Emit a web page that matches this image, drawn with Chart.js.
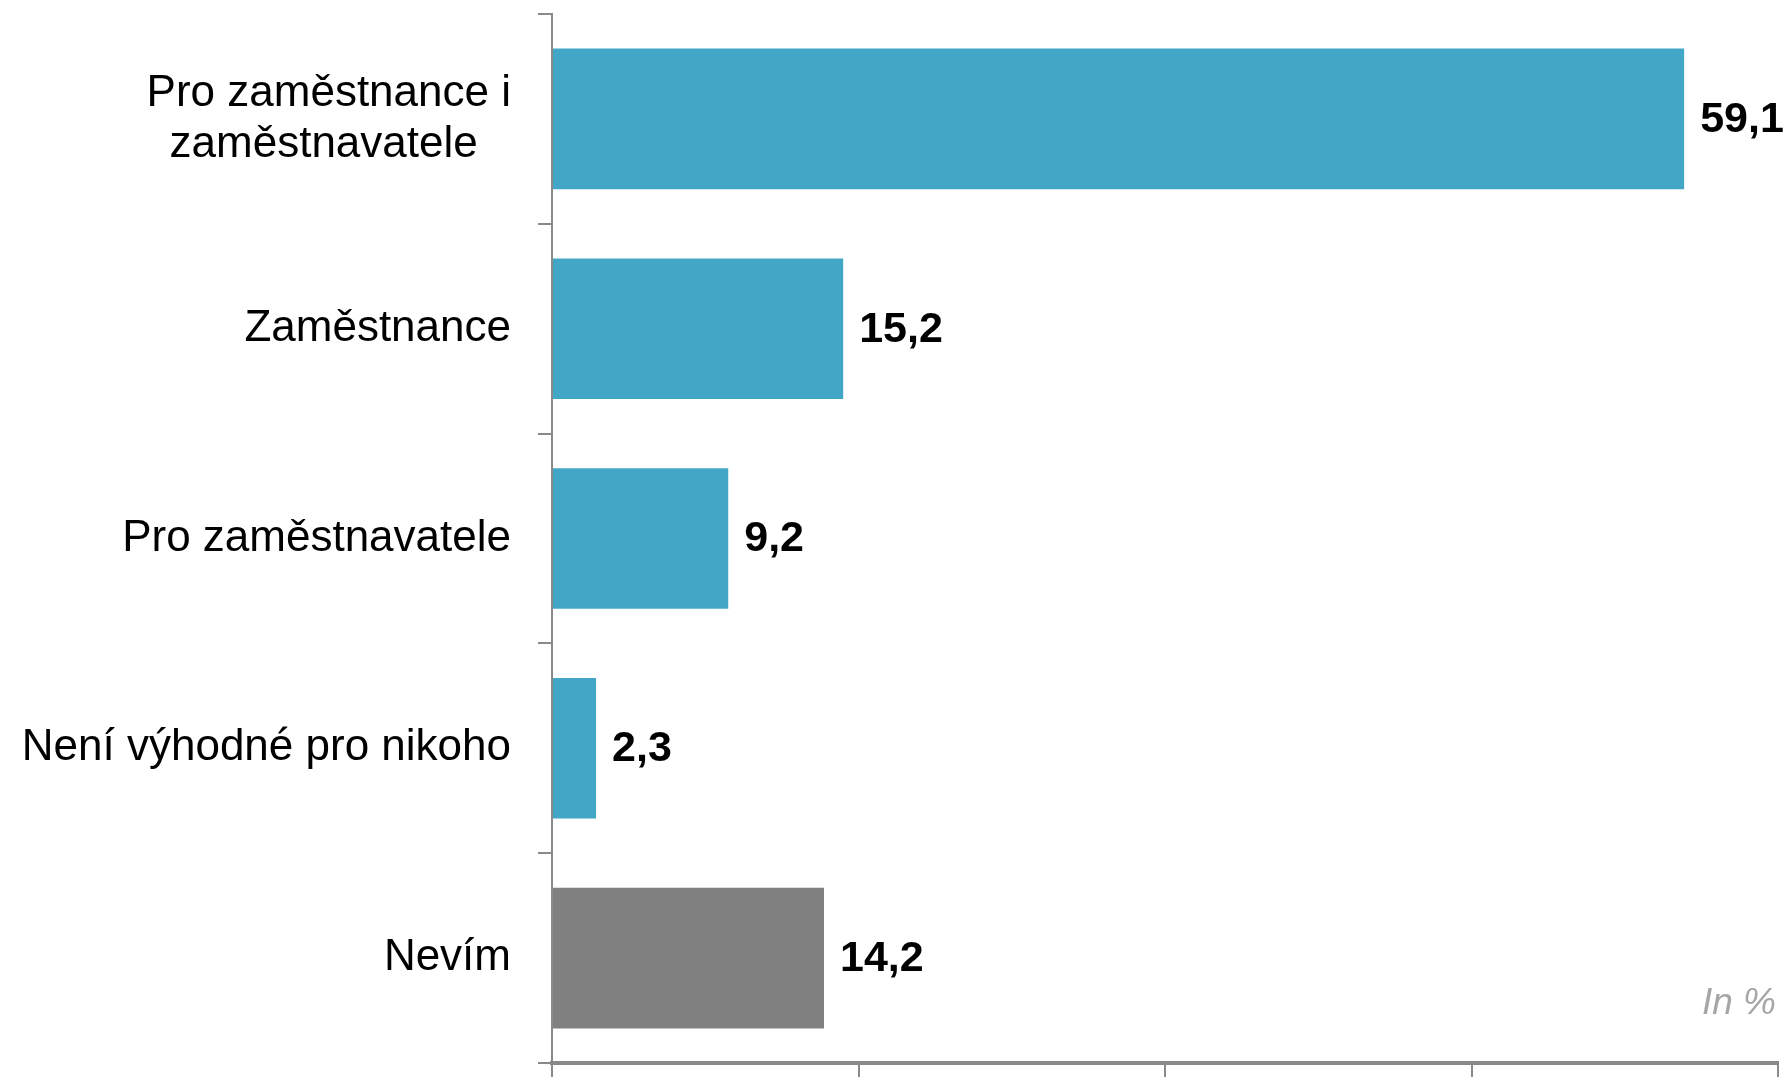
<!DOCTYPE html>
<html>
<head>
<meta charset="utf-8">
<script src="https://cdn.jsdelivr.net/npm/chart.js@4.4.0/dist/chart.umd.min.js"></script>
<style>
  html, body { margin: 0; padding: 0; background: #fff; }
  #wrap { width: 1789px; height: 1077px; position: relative; }
</style>
</head>
<body>
<div id="wrap"><canvas id="barChart"></canvas></div>
<script>
// categories (second line padded so the two lines sit centred on each other)
const categories = [
    ['Pro zaměstnance i', 'zaměstnavatele\u00a0\u00a0\u2009'],
    'Zaměstnance',
    'Pro zaměstnavatele',
    'Není výhodné pro nikoho',
    'Nevím'
];
const values = [59.1, 15.2, 9.2, 2.3, 14.2];
const barColors = ['#42a6c6', '#42a6c6', '#42a6c6', '#42a6c6', '#808080'];
const xTicks = [0, 16, 32, 48, 64];
const unitNote = 'In %';

const FONT = '"Liberation Sans", Arial, sans-serif';
const AXIS = '#898989';

// hodnoty vedle sloupců + poznámka "In %"
const valueLabels = {
    id: 'valueLabels',
    afterDatasetsDraw(chart) {
        const ctx = chart.ctx;
        const meta = chart.getDatasetMeta(0);
        ctx.save();
        ctx.font = 'bold 43px ' + FONT;
        ctx.fillStyle = '#000';
        ctx.textAlign = 'left';
        ctx.textBaseline = 'middle';
        meta.data.forEach((bar, i) => {
            ctx.fillText(values[i].toFixed(1).replace('.', ','), bar.x + 16, bar.y + 1);
        });
        ctx.font = 'italic 37px ' + FONT;
        ctx.fillStyle = '#a6a6a6';
        ctx.textAlign = 'right';
        ctx.fillText(unitNote, chart.chartArea.right - 2, chart.chartArea.bottom - 59);
        ctx.restore();
    }
};

const ctx = document.getElementById('barChart').getContext('2d');
new Chart(ctx, {
    type: 'bar',
    data: {
        labels: categories,
        datasets: [{
            data: values,
            backgroundColor: barColors,
            barPercentage: 0.67,
            categoryPercentage: 1
        }]
    },
    options: {
        indexAxis: 'y',
        responsive: true,
        maintainAspectRatio: false,
        animation: false,
        layout: { padding: { top: 14, right: 11, bottom: 0, left: 0 } },
        plugins: {
            legend: { display: false },
            tooltip: { enabled: false }
        },
        scales: {
            x: {
                min: xTicks[0],
                max: xTicks[xTicks.length - 1],
                afterBuildTicks: (scale) => { scale.ticks = xTicks.map(v => ({ value: v })); },
                ticks: { display: false },
                grid: {
                    drawOnChartArea: false,
                    drawTicks: true,
                    tickLength: 14,
                    color: AXIS,
                    lineWidth: 2
                },
                border: { color: AXIS, width: 4 }
            },
            y: {
                afterFit: (scale) => {
                    scale.width = 552;
                    scale.paddingTop = 0;
                    scale.paddingBottom = 0;
                },
                ticks: {
                    color: '#000',
                    padding: 27,
                    font: { family: FONT, size: 44, lineHeight: 1.16 }
                },
                grid: {
                    drawOnChartArea: false,
                    drawTicks: true,
                    tickLength: 14,
                    color: AXIS,
                    lineWidth: 2
                },
                border: { color: AXIS, width: 2 }
            }
        }
    },
    plugins: [valueLabels]
});
</script>
</body>
</html>
